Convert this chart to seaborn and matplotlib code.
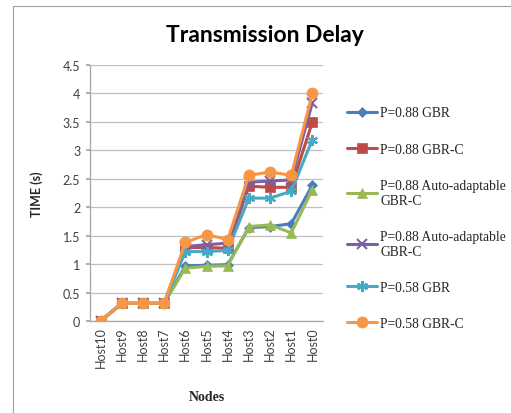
import numpy as np
import pandas as pd
import seaborn as sns
import matplotlib
matplotlib.use("Agg")
import matplotlib.pyplot as plt
from matplotlib.lines import Line2D

hosts = ["Host10", "Host9", "Host8", "Host7", "Host6", "Host5", "Host4",
         "Host3", "Host2", "Host1", "Host0"]
s_088_gbr = [0, 0.31, 0.31, 0.31, 0.97, 0.98, 0.99, 1.64, 1.66, 1.71, 2.39]
s_088_gbrc = [0, 0.31, 0.31, 0.31, 1.29, 1.29, 1.28, 2.37, 2.35, 2.35, 3.50]
s_088_auto = [0, 0.31, 0.31, 0.31, 0.93, 0.96, 0.97, 1.66, 1.69, 1.55, 2.31]
s_088_auto2 = [0, 0.31, 0.31, 0.31, 1.31, 1.34, 1.37, 2.44, 2.46, 2.48, 3.84]
s_058_gbr = [0, 0.31, 0.31, 0.31, 1.22, 1.22, 1.24, 2.16, 2.16, 2.28, 3.19]
s_058_gbrc = [0, 0.31, 0.31, 0.31, 1.38, 1.52, 1.43, 2.56, 2.62, 2.56, 4.00]

labels = ["P=0.88 GBR", "P=0.88 GBR-C", "P=0.88 Auto-adaptable\nGBR-C",
          "P=0.88 Auto-adaptable \nGBR-C", "P=0.58 GBR", "P=0.58 GBR-C"]
series = [s_088_gbr, s_088_gbrc, s_088_auto, s_088_auto2, s_058_gbr, s_058_gbrc]
colors = ["#4A7EBB", "#BE4B48", "#98B954", "#7D60A0", "#46AAC5", "#F79646"]
markers = ["D", "s", "^", "x", (6, 2, 0), "o"]
msizes = [5, 7, 7, 7, 8, 8]

rows = []
for lab, vals in zip(labels, series):
    for i, v in enumerate(vals):
        rows.append({"idx": i, "val": v, "series": lab})
df = pd.DataFrame(rows)

sns.set_theme(style="white")
plt.rcParams['font.family'] = ['Lato', 'DejaVu Sans']

fig = plt.figure(figsize=(5.11, 4.14), dpi=100)
W, H = 511, 414
ax = fig.add_axes([90 / W, 1 - 322 / H, (323 - 90) / W, (322 - 66) / H])

for lab, col, mk, ms in zip(labels, colors, markers, msizes):
    sub = df[df["series"] == lab]
    sns.lineplot(data=sub, x="idx", y="val", ax=ax, color=col, marker=mk,
                 markersize=ms, linewidth=2.2, label=lab, sort=False,
                 markeredgecolor=col, markeredgewidth=1.5 if mk in ("x", (6, 2, 0)) else 0.5)

ax.set_xlim(-0.5, 10.5)
ax.set_ylim(0, 4.5)
ax.set_yticks(np.arange(0, 4.51, 0.5))
ax.set_yticklabels(["0", "0.5", "1", "1.5", "2", "2.5", "3", "3.5", "4", "4.5"],
                   fontsize=9, color="#404040")
ax.set_xticks(range(len(hosts)))
ax.set_xticklabels(hosts, rotation=90, fontsize=9, color="#404040")
ax.grid(axis="y", color="#BFBFBF", linewidth=0.9)
ax.set_axisbelow(True)
for s in ["top", "right"]:
    ax.spines[s].set_visible(False)
for s in ["left", "bottom"]:
    ax.spines[s].set_color("#A6A6A6")
    ax.spines[s].set_linewidth(0.9)
ax.tick_params(axis="y", length=3, color="#A6A6A6", left=True, pad=4)
ax.tick_params(axis="x", length=0, pad=4)

ax.set_xlabel("Nodes", fontfamily="Liberation Serif", fontweight="bold",
              fontsize=10, labelpad=16)
ax.set_ylabel("TIME (s)", fontweight="bold", fontsize=9, labelpad=14)

fig.text(265 / W, 1 - 35 / H, "Transmission Delay", ha="center", va="center",
         fontsize=16.5, fontweight="bold", color="black")

leg = ax.legend(loc="upper left", bbox_to_anchor=(342 / W, 1 - 102 / H),
                bbox_transform=fig.transFigure, frameon=False,
                prop={"family": "Liberation Serif", "size": 9.8},
                labelspacing=1.7, handlelength=2.2, handletextpad=0.2,
                borderaxespad=0)

fig.add_artist(Line2D([13 / W, 1], [1 - 7 / H, 1 - 7 / H], transform=fig.transFigure,
                      color="#A0A0A0", linewidth=0.8))
fig.add_artist(Line2D([13 / W, 13 / W], [0, 1 - 7 / H], transform=fig.transFigure,
                      color="#A0A0A0", linewidth=0.8))

fig.savefig("out.png", dpi=100)
